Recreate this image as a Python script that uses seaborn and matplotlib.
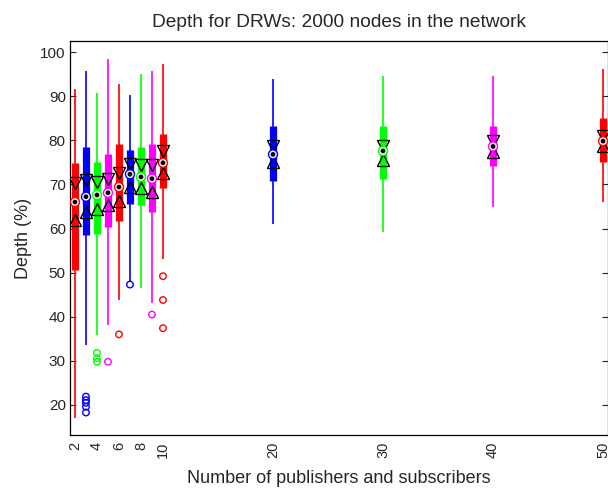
import matplotlib
matplotlib.use("Agg")
import matplotlib.pyplot as plt
import numpy as np
import pandas as pd
import seaborn as sns

# group positions (number of publishers and subscribers)
positions = [2, 3, 4, 5, 6, 7, 8, 9, 10, 20, 30, 40, 50]
tick_pos = [2, 4, 6, 8, 10, 20, 30, 40, 50]

# box summaries (depth in %)
whisker_low = [17.1, 33.6, 35.8, 38.1, 43.8, 47.9, 46.6, 43.2, 53.0, 61.1, 59.2, 64.9, 66.0]
q1 = [50.6, 58.5, 58.7, 60.4, 61.7, 65.5, 65.4, 63.8, 69.1, 70.8, 71.3, 74.1, 75.0]
median = [66.0, 67.2, 67.6, 68.1, 69.4, 72.3, 71.7, 71.3, 74.9, 76.8, 77.6, 78.6, 79.8]
q3 = [74.9, 78.5, 75.1, 76.8, 79.1, 77.7, 78.4, 79.1, 81.4, 83.2, 83.2, 83.2, 85.1]
whisker_high = [91.7, 95.7, 90.7, 98.5, 92.8, 90.2, 95.0, 95.7, 97.4, 94.0, 94.6, 94.6, 96.2]
notch_low = [61.9, 63.8, 64.5, 65.3, 66.3, 69.4, 69.1, 68.3, 72.5, 75.0, 75.6, 77.4, 78.6]
notch_high = [70.3, 70.9, 70.6, 71.3, 72.6, 74.7, 74.3, 74.3, 77.6, 78.6, 78.8, 79.9, 81.0]

# outliers
outlier_pos = [3, 3, 3, 3, 3, 4, 4, 4, 5, 6, 7, 9, 10, 10, 10]
outlier_val = [21.9, 21.1, 20.5, 19.6, 18.3, 31.8, 30.6, 29.8, 29.8, 36.0, 47.3, 40.5, 49.2, 43.8, 37.4]

color_cycle = ["#ff0000", "#0000ff", "#00ff00", "#ff00ff"]
box_colors = [color_cycle[i % 4] for i in range(len(positions))]
pos_color = dict(zip(positions, box_colors))

sns.set_style("ticks")
plt.rcParams["font.family"] = ["Liberation Sans", "DejaVu Sans"]
plt.rcParams["xtick.direction"] = "in"
plt.rcParams["ytick.direction"] = "in"

fig = plt.figure(figsize=(6.08, 4.91), dpi=100)
ax = fig.add_axes([70 / 608, 1 - 435 / 491, 538 / 608, (435 - 41) / 491])

# whiskers and filled boxes
ax.vlines(positions, whisker_low, whisker_high, colors=box_colors, lw=1.2, zorder=2)
ax.vlines(positions, q1, q3, colors=box_colors, lw=5.2, zorder=3)

# notch markers
ax.plot(positions, notch_high, ls="none", marker="v", ms=8, mfc="none", mec="black", mew=1.0, zorder=4)
ax.plot(positions, notch_low, ls="none", marker="^", ms=8, mfc="none", mec="black", mew=1.0, zorder=4)

# median: white circle with coloured ring and black dot
med_df = pd.DataFrame({"pos": positions, "median": median, "grp": [str(p) for p in positions]})
sns.scatterplot(data=med_df, x="pos", y="median", hue="grp",
                palette=[pos_color[p] for p in positions], s=42, legend=False, ax=ax, zorder=5)
pc = ax.collections[-1]
pc.set_edgecolors(pc.get_facecolors())
pc.set_facecolors("white")
pc.set_linewidth(1.0)
sns.scatterplot(x=positions, y=median, color="black", s=12, edgecolor="none", ax=ax, zorder=6)

# outliers as open circles
out_df = pd.DataFrame({"pos": outlier_pos, "val": outlier_val, "grp": [str(p) for p in outlier_pos]})
grp_order = list(dict.fromkeys(out_df["grp"]))
sns.scatterplot(data=out_df, x="pos", y="val", hue="grp", hue_order=grp_order,
                palette=[pos_color[int(g)] for g in grp_order], s=22, legend=False, ax=ax, zorder=4)
pc = ax.collections[-1]
pc.set_edgecolors(pc.get_facecolors())
pc.set_facecolors("none")
pc.set_linewidth(1.0)

ax.set_xlim(1.55, 50.45)
ax.set_ylim(13.2, 102.5)
ax.set_xticks(tick_pos)
ax.set_xticklabels([str(t) for t in tick_pos], rotation=90, fontsize=10.5)
ax.set_yticks(np.arange(20, 101, 10))
ax.tick_params(axis="y", right=True, left=True, length=4, width=0.8, labelsize=11, pad=3)
ax.tick_params(axis="x", length=0, pad=5)
for s in ax.spines.values():
    s.set_visible(True)
    s.set_color("black")
    s.set_linewidth(0.9)

ax.set_xlabel("Number of publishers and subscribers", fontsize=13)
ax.xaxis.set_label_coords(0.5, -0.09)
ax.set_ylabel("Depth (%)", fontsize=13, labelpad=6)
ax.set_title("Depth for DRWs: 2000 nodes in the network", fontsize=13.8, pad=10)

fig.savefig("out.png", dpi=100)
